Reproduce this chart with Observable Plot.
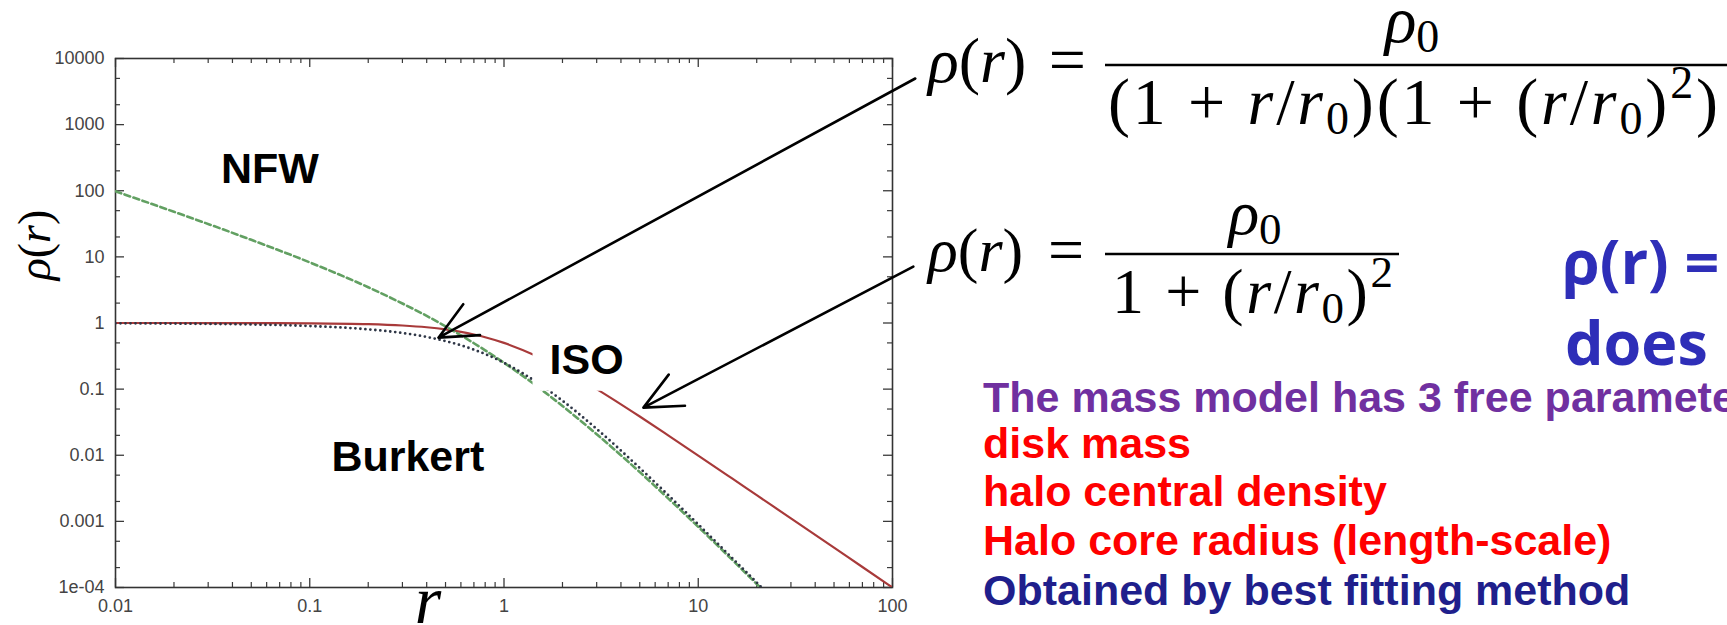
<!DOCTYPE html>
<html><head><meta charset="utf-8">
<script src="https://cdn.jsdelivr.net/npm/d3@7"></script>
<script src="https://cdn.jsdelivr.net/npm/@observablehq/plot@0.6"></script>
<style>
html,body{margin:0;padding:0;background:#fff;overflow:hidden;}
#wrap{position:relative;width:1727px;height:625px;overflow:hidden;background:#fff;}
#wrap > svg{position:absolute;left:0;top:0;}
</style></head><body><div id="wrap"></div>
<script>
// ---- data ----
const radius      = [0.01, 0.02, 0.05, 0.1, 0.2, 0.3, 0.4, 0.5, 0.6, 0.7, 0.8, 1, 1.5, 2, 3, 5, 7, 10, 15, 20, 30, 50, 70, 100];
const isoRho      = [0.9999, 0.9996, 0.9975, 0.990, 0.962, 0.917, 0.862, 0.800, 0.735, 0.671, 0.610, 0.500, 0.308, 0.200, 0.100, 0.0385, 0.0200, 0.0099, 0.00442, 0.00249, 0.00111, 0.00040, 0.000204, 0.000100];
const burkertRho  = [0.990, 0.980, 0.950, 0.900, 0.801, 0.706, 0.616, 0.533, 0.460, 0.395, 0.339, 0.250, 0.123, 0.0667, 0.0250, 0.00641, 0.00250, 0.00090, 0.000276, 0.000119, 0.0000358, null, null, null];
const nfwRho      = [98.0, 48.1, 18.1, 8.26, 3.47, 1.97, 1.28, 0.889, 0.651, 0.494, 0.386, 0.250, 0.107, 0.0556, 0.0208, 0.00556, 0.00223, 0.000826, 0.000260, 0.000113, 0.0000347, null, null, null];

const xTicks      = [0.01, 0.1, 1, 10, 100];
const xTickLabels = ["0.01", "0.1", "1", "10", "100"];
const yTicks      = [1e-4, 1e-3, 1e-2, 1e-1, 1, 10, 100, 1000, 10000];
const yTickLabels = ["1e-04", "0.001", "0.01", "0.1", "1", "10", "100", "1000", "10000"];

const labelText = ["NFW", "Burkert"];
const labelR    = [0.0624, 0.32];
const labelRho  = [215, 0.00946];
const isoLabelR = [2.66];
const isoLabelRho = [0.277];

const arrowFromR   = [131, 128];
const arrowFromRho = [4983, 7.13];
const arrowToR     = [0.46, 5.22];
const arrowToRho   = [0.60, 0.0525];

// ---- tables ----
const rows = radius.map((r, i) => ({r, iso: isoRho[i], burkert: burkertRho[i], nfw: nfwRho[i]}));
const labels = labelText.map((t, i) => ({t, r: labelR[i], rho: labelRho[i]}));
const isoLabel = [{t: "ISO", r: isoLabelR[0], rho: isoLabelRho[0]}];
const arrows = arrowFromR.map((r, i) => ({r1: r, y1: arrowFromRho[i], r2: arrowToR[i], y2: arrowToRho[i]}));
const xMinor = [];
for (let d = 0.01; d < 100; d *= 10) for (let m = 2; m <= 9; m++) xMinor.push(+(d * m).toPrecision(3));
const yMinor = [];
for (let d = 1e-4; d < 1e4; d *= 10) for (const m of [2, 5]) yMinor.push(+(d * m).toPrecision(3));

const W = 1727, H = 625, mL = 115, mR = 835, mT = 58, mB = 38;
const iW = W - mL - mR, iH = H - mT - mB;
const tickColor = "#3a3a3a";
const sans = "Liberation Sans, Arial, sans-serif";

// white label box (pixel offsets around the label anchor)
const labelBox = {draw(ctx) { ctx.moveTo(-54, -36); ctx.lineTo(50, -36); ctx.lineTo(50, 31); ctx.lineTo(-54, 31); ctx.closePath(); }};

const chart = Plot.plot({
  width: W, height: H,
  marginLeft: mL, marginRight: mR, marginTop: mT, marginBottom: mB,
  style: {fontFamily: sans, fontSize: "18px", background: "transparent", color: "#444"},
  x: {type: "log", domain: [0.01, 100]},
  y: {type: "log", domain: [1e-4, 1e4]},
  marks: [
    Plot.axisX(xTicks, {tickSize: 0, tickPadding: 12, tickFormat: d => xTickLabels[xTicks.indexOf(d)], label: null, fontSize: 18}),
    Plot.axisY(yTicks, {tickSize: 0, tickPadding: 11, tickFormat: d => yTickLabels[yTicks.indexOf(d)], label: null, fontSize: 18}),
    // inward ticks on all four sides
    Plot.ruleX(xTicks, {x: d => d, insetTop: iH - 9, stroke: tickColor, strokeWidth: 1.3}),
    Plot.ruleX(xTicks, {x: d => d, insetBottom: iH - 9, stroke: tickColor, strokeWidth: 1.3}),
    Plot.ruleX(xMinor, {x: d => d, insetTop: iH - 5, stroke: tickColor, strokeWidth: 1.2}),
    Plot.ruleX(xMinor, {x: d => d, insetBottom: iH - 5, stroke: tickColor, strokeWidth: 1.2}),
    Plot.ruleY(yTicks, {y: d => d, insetRight: iW - 9, stroke: tickColor, strokeWidth: 1.3}),
    Plot.ruleY(yTicks, {y: d => d, insetLeft: iW - 9, stroke: tickColor, strokeWidth: 1.3}),
    Plot.ruleY(yMinor, {y: d => d, insetRight: iW - 5, stroke: tickColor, strokeWidth: 1.2}),
    Plot.ruleY(yMinor, {y: d => d, insetLeft: iW - 5, stroke: tickColor, strokeWidth: 1.2}),
    Plot.frame({stroke: "#333", strokeWidth: 1.6}),
    // curves
    Plot.line(rows, {x: "r", y: "iso", stroke: "#a83a3a", strokeWidth: 2.2, curve: "monotone-x", clip: true}),
    Plot.line(rows, {x: "r", y: "nfw", stroke: "#62a062", strokeWidth: 2.6, strokeDasharray: "6,3.5", curve: "monotone-x", clip: true}),
    Plot.line(rows, {x: "r", y: "burkert", stroke: "#2e3646", strokeWidth: 2.8, strokeDasharray: "0,5", strokeLinecap: "round", curve: "monotone-x", clip: true}),
    // labels
    Plot.text(labels, {x: "r", y: "rho", text: "t", fontSize: 43, fontWeight: "bold", fontFamily: sans, fill: "#000"}),
    Plot.dot(isoLabel, {x: "r", y: "rho", symbol: labelBox, r: 10, fill: "#fff", stroke: null}),
    Plot.text(isoLabel, {x: "r", y: "rho", text: "t", fontSize: 43, fontWeight: "bold", fontFamily: sans, fill: "#000"}),
    // arrows
    Plot.arrow(arrows, {x1: "r1", y1: "y1", x2: "r2", y2: "y2", stroke: "#000", strokeWidth: 2.6, headLength: 24, headAngle: 50})
  ]
});
const wrap = document.getElementById("wrap");
wrap.append(chart);

// slide annotations
const svgNS = "http://www.w3.org/2000/svg";
const ann = document.createElementNS(svgNS, "svg");
ann.setAttribute("width", W); ann.setAttribute("height", H);
ann.innerHTML = `
<g font-family="Liberation Serif, Times New Roman, serif" fill="#000">
  <text x="50" y="245" font-size="46" text-anchor="middle" transform="rotate(-90 50 245)"><tspan font-style="italic">ρ</tspan>(<tspan font-style="italic">r</tspan>)</text>
  <text x="428" y="623" font-size="68" text-anchor="middle" font-style="italic">r</text>

  <text x="928" y="82" font-size="64"><tspan font-style="italic">ρ</tspan>(<tspan font-style="italic">r</tspan>)</text>
  <text x="1086" y="82" font-size="66" text-anchor="end">=</text>
  <line x1="1105" x2="1727" y1="65" y2="65" stroke="#000" stroke-width="2.6"/>
  <text x="1412" y="42" font-size="66" text-anchor="middle"><tspan font-style="italic">ρ</tspan><tspan font-size="46" dy="10">0</tspan></text>
  <text x="1108" y="124" font-size="66" textLength="610" lengthAdjust="spacing">(1 + <tspan font-style="italic">r</tspan>/<tspan font-style="italic">r</tspan><tspan font-size="46" dy="10">0</tspan><tspan dy="-10">)(1 + (</tspan><tspan font-style="italic">r</tspan>/<tspan font-style="italic">r</tspan><tspan font-size="46" dy="10">0</tspan><tspan dy="-10">)</tspan><tspan font-size="46" dy="-26">2</tspan><tspan dy="26">)</tspan></text>

  <text x="928" y="271" font-size="62"><tspan font-style="italic">ρ</tspan>(<tspan font-style="italic">r</tspan>)</text>
  <text x="1084" y="271" font-size="64" text-anchor="end">=</text>
  <line x1="1105" x2="1399" y1="254" y2="254" stroke="#000" stroke-width="2.6"/>
  <text x="1255" y="234" font-size="64" text-anchor="middle"><tspan font-style="italic">ρ</tspan><tspan font-size="45" dy="10">0</tspan></text>
  <text x="1112" y="313" font-size="64" textLength="281" lengthAdjust="spacing">1 + (<tspan font-style="italic">r</tspan>/<tspan font-style="italic">r</tspan><tspan font-size="45" dy="10">0</tspan><tspan dy="-10">)</tspan><tspan font-size="45" dy="-26">2</tspan></text>
</g>
<g font-family="Open Sans, sans-serif" font-weight="700" fill="#2e2eb8" font-size="61">
  <text x="1562" y="284">ρ(r) =</text>
  <text x="1565" y="365">does</text>
</g>
<g font-family="Liberation Sans, Arial, sans-serif" font-weight="700" font-size="43">
  <text x="983" y="412" fill="#7030a0">The mass model has 3 free parameters:</text>
  <text x="983" y="458" fill="#ff0000">disk mass</text>
  <text x="983" y="506" fill="#ff0000">halo central density</text>
  <text x="983" y="555" fill="#ff0000">Halo core radius (length-scale)</text>
  <text x="983" y="605" fill="#1f1f8c">Obtained by best fitting method</text>
</g>`;
wrap.append(ann);
</script></body></html>
